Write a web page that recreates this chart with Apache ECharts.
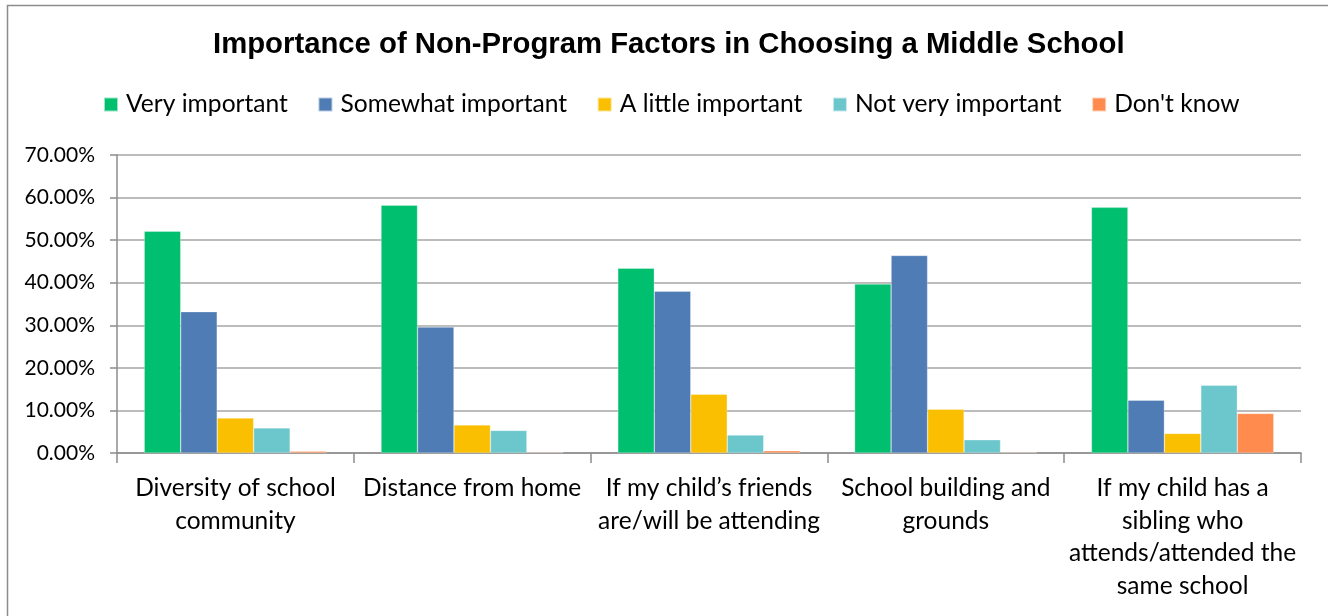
<!DOCTYPE html>
<html>
<head>
<meta charset="utf-8">
<script src="https://cdn.jsdelivr.net/npm/echarts@6/dist/echarts.min.js"></script>
<style>html,body{margin:0;padding:0;background:#fff;}#c{width:1328px;height:616px;}</style>
</head>
<body>
<div id="c"></div>
<script>
const categories = [
  'Diversity of school\ncommunity',
  'Distance from home',
  'If my child\u2019s friends\nare/will be attending',
  'School building and\ngrounds',
  'If my child has a\nsibling who\nattends/attended the\nsame school'
];
const seriesNames = ['Very important', 'Somewhat important', 'A little important', 'Not very important', "Don't know"];
const veryImportant = [52.1, 58.2, 43.4, 39.7, 57.7];
const somewhatImportant = [33.2, 29.6, 38.0, 46.4, 12.4];
const aLittleImportant = [8.2, 6.6, 13.8, 10.3, 4.6];
const notVeryImportant = [5.9, 5.3, 4.2, 3.1, 15.9];
const dontKnow = [0.4, 0.2, 0.5, 0.2, 9.3];
const colors = ['#00BF6F', '#4F7CB5', '#F9BF00', '#6CC7CC', '#FF8B4E'];
const allValues = [veryImportant, somewhatImportant, aLittleImportant, notVeryImportant, dontKnow];

const chart = echarts.init(document.getElementById('c'));
chart.setOption({
  animation: false,
  backgroundColor: '#fff',
  graphic: [{
    type: 'rect', left: 5, top: 3,
    shape: { width: 1400, height: 700 },
    style: { fill: 'none', stroke: '#8c8c8c', lineWidth: 1.5 },
    silent: true
  }],
  title: {
    text: 'Importance of Non-Program Factors in Choosing a Middle School',
    left: 208, top: 25,
    textStyle: { fontFamily: 'Liberation Sans, Arial, sans-serif', fontWeight: 'bold', fontSize: 29.3, color: '#000' }
  },
  legend: {
    top: 87, left: 98,
    itemWidth: 14, itemHeight: 14, itemGap: 29.5,
    icon: 'rect',
    textStyle: { fontFamily: 'Lato, sans-serif', fontSize: 24.6, color: '#000', padding: [0, 0, 0, 3] },
    data: seriesNames
  },
  grid: { left: 117, right: 27, top: 155, bottom: 163, containLabel: false },
  xAxis: {
    type: 'category',
    data: categories,
    axisLine: { lineStyle: { color: '#8c8c8c', width: 1.5 } },
    axisTick: { show: true, length: 10, lineStyle: { color: '#8c8c8c', width: 1.5 } },
    axisLabel: { fontFamily: 'Lato, sans-serif', fontSize: 24.5, color: '#000', lineHeight: 32.5, margin: 19, interval: 0 }
  },
  yAxis: {
    type: 'value', min: 0, max: 70, interval: 10,
    axisLine: { show: true, lineStyle: { color: '#8c8c8c', width: 1.5 } },
    axisTick: { show: true, length: 7, lineStyle: { color: '#8c8c8c', width: 1.5 } },
    splitLine: { lineStyle: { color: '#a6a6a6', width: 1.5 } },
    axisLabel: { fontFamily: 'Lato, sans-serif', fontSize: 21, color: '#000', margin: 22, formatter: v => v.toFixed(2) + '%' }
  },
  series: seriesNames.map((n, i) => ({
    name: n, type: 'bar', data: allValues[i],
    barGap: '0%', barCategoryGap: '23%',
    itemStyle: { color: colors[i], borderColor: 'rgba(255,255,255,0.6)', borderWidth: 0.5 }
  }))
});
</script>
</body>
</html>
